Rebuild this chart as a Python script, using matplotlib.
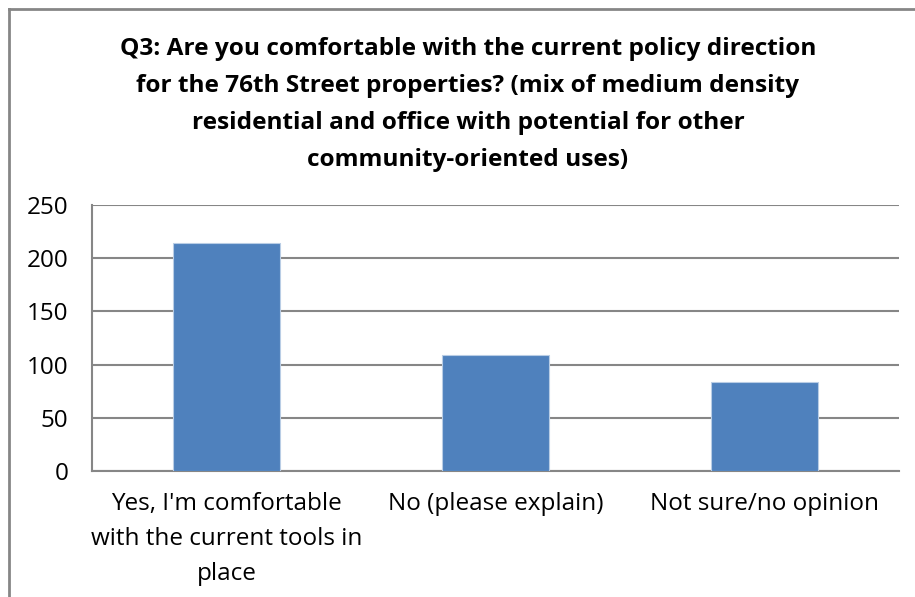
import matplotlib
matplotlib.use("Agg")
import matplotlib.pyplot as plt
from matplotlib.lines import Line2D

categories = ["Yes, I'm comfortable\nwith the current tools in\nplace",
              "No (please explain)",
              "Not sure/no opinion"]
counts = [214, 109, 84]
yticks = [0, 50, 100, 150, 200, 250]
title = ("Q3: Are you comfortable with the current policy direction\n"
         "for the 76th Street properties? (mix of medium density\n"
         "residential and office with potential for other\n"
         "community-oriented uses)")

plt.rcParams['font.family'] = ['Open Sans', 'DejaVu Sans']
grey = "#868686"

fig = plt.figure(figsize=(9.15, 5.97), dpi=100)
ax = fig.add_axes([92 / 915, 1 - 471 / 597, (899 - 92) / 915, (471 - 205) / 597])

x = list(range(len(categories)))
ax.bar(x, counts, width=0.4, color="#4F81BD", edgecolor="#B9CDE5", linewidth=0.8, zorder=3)
ax.set_xlim(-0.5, len(categories) - 0.5)
ax.set_ylim(0, 250)
ax.set_yticks(yticks)
ax.yaxis.grid(True, color=grey, linewidth=1.5, zorder=0)
ax.tick_params(axis="both", length=0, labelsize=17.5)
ax.tick_params(axis="y", pad=17)
ax.set_xticks(x)
ax.set_xticklabels(categories, linespacing=1.62)
ax.tick_params(axis="x", pad=15)
for s in ["top", "right"]:
    ax.spines[s].set_visible(False)
for s in ["left", "bottom"]:
    ax.spines[s].set_color(grey)
    ax.spines[s].set_linewidth(1.5)

fig.text(468 / 915, 1 - 37 / 597, title, ha="center", va="top", fontsize=17.6,
         fontweight="bold", linespacing=1.72)

# chart border (left and top edges visible)
fig.add_artist(Line2D([9 / 915, 9 / 915], [0, 1 - 8.5 / 597], transform=fig.transFigure,
                      color=grey, linewidth=2))
fig.add_artist(Line2D([9 / 915, 1], [1 - 8.5 / 597, 1 - 8.5 / 597], transform=fig.transFigure,
                      color=grey, linewidth=2))

fig.savefig("out.png", dpi=100)
